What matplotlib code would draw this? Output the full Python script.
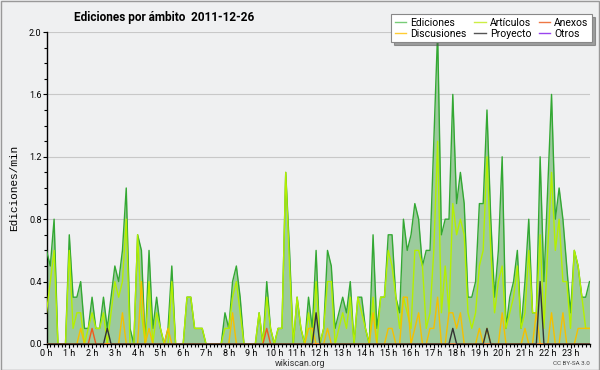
import numpy as np
import matplotlib
matplotlib.use("Agg")
import matplotlib.pyplot as plt
from matplotlib.lines import Line2D
from matplotlib.patches import Rectangle
from matplotlib.ticker import MultipleLocator

plt.rcParams['font.family'] = ['Roboto', 'DejaVu Sans']

title = "Ediciones por ámbito  2011-12-26"
hour_labels = [f"{h} h" for h in range(24)]

ediciones = [
    0.6, 0.5, 0.8, 0.0, 0.0, 0.0, 0.7, 0.3, 0.3, 0.4, 0.1, 0.1,
    0.3, 0.1, 0.1, 0.3, 0.1, 0.3, 0.5, 0.4, 0.6, 1.0, 0.1, 0.0,
    0.7, 0.6, 0.0, 0.6, 0.1, 0.3, 0.1, 0.0, 0.1, 0.5, 0.0, 0.0,
    0.0, 0.3, 0.3, 0.1, 0.1, 0.1, 0.0, 0.0, 0.0, 0.0, 0.0, 0.2,
    0.1, 0.4, 0.5, 0.3, 0.0, 0.0, 0.0, 0.0, 0.2, 0.0, 0.4, 0.1,
    0.0, 0.1, 0.1, 1.1, 0.6, 0.0, 0.3, 0.1, 0.0, 0.3, 0.1, 0.6,
    0.0, 0.1, 0.6, 0.5, 0.1, 0.2, 0.3, 0.2, 0.4, 0.0, 0.3, 0.3,
    0.1, 0.0, 0.7, 0.1, 0.3, 0.3, 0.7, 0.7, 0.3, 0.2, 0.8, 0.6,
    0.7, 0.9, 0.8, 0.5, 0.6, 0.6, 1.3, 2.0, 0.7, 0.8, 0.8, 1.6,
    0.9, 1.1, 0.9, 0.3, 0.3, 0.4, 0.9, 0.9, 1.5, 0.8, 0.3, 0.6,
    1.2, 0.1, 0.3, 0.4, 0.6, 0.1, 0.4, 0.8, 0.2, 0.2, 1.2, 0.4,
    1.0, 1.6, 0.8, 1.0, 0.8, 0.5, 0.2, 0.6, 0.5, 0.3, 0.3, 0.4,
]
articulos = [
    0.2, 0.4, 0.6, 0.0, 0.0, 0.0, 0.6, 0.1, 0.2, 0.2, 0.0, 0.1,
    0.2, 0.1, 0.1, 0.2, 0.0, 0.2, 0.4, 0.3, 0.4, 0.8, 0.0, 0.0,
    0.7, 0.2, 0.0, 0.4, 0.0, 0.2, 0.1, 0.0, 0.0, 0.4, 0.0, 0.0,
    0.0, 0.3, 0.3, 0.1, 0.1, 0.1, 0.0, 0.0, 0.0, 0.0, 0.0, 0.1,
    0.1, 0.3, 0.4, 0.2, 0.0, 0.0, 0.0, 0.0, 0.2, 0.0, 0.3, 0.1,
    0.0, 0.1, 0.1, 1.1, 0.5, 0.0, 0.3, 0.1, 0.0, 0.2, 0.0, 0.4,
    0.0, 0.1, 0.4, 0.4, 0.0, 0.1, 0.2, 0.1, 0.3, 0.0, 0.3, 0.2,
    0.1, 0.0, 0.3, 0.0, 0.3, 0.3, 0.6, 0.5, 0.3, 0.1, 0.3, 0.2,
    0.1, 0.6, 0.6, 0.5, 0.1, 0.2, 0.6, 1.3, 0.2, 0.5, 0.2, 0.9,
    0.7, 0.8, 0.7, 0.2, 0.1, 0.2, 0.5, 0.6, 1.2, 0.6, 0.2, 0.4,
    0.5, 0.1, 0.2, 0.3, 0.5, 0.1, 0.2, 0.6, 0.2, 0.2, 0.7, 0.1,
    0.6, 1.1, 0.6, 0.8, 0.4, 0.4, 0.1, 0.6, 0.5, 0.3, 0.1, 0.1,
]
discusiones = [0.0] * 144
for k, v in {9: 0.1, 20: 0.2, 25: 0.4, 27: 0.1, 32: 0.1, 49: 0.2, 69: 0.1,
             70: 0.1, 74: 0.1, 86: 0.2, 90: 0.1, 91: 0.1, 94: 0.3, 95: 0.3,
             97: 0.1, 98: 0.2, 101: 0.1, 102: 0.1, 103: 0.3, 106: 0.2,
             107: 0.2, 108: 0.1, 109: 0.2, 114: 0.1, 116: 0.1, 120: 0.2,
             126: 0.1, 129: 0.2, 133: 0.2, 136: 0.2, 140: 0.1, 141: 0.1,
             142: 0.1, 143: 0.1}.items():
    discusiones[k] = v
anexos = [0.0] * 144
for k, v in {12: 0.1, 58: 0.1}.items():
    anexos[k] = v
proyecto = [0.0] * 144
for k, v in {16: 0.1, 71: 0.2, 107: 0.1, 116: 0.1, 130: 0.4}.items():
    proyecto[k] = v
otros = [0.0] * 144

x = np.arange(len(ediciones))

bg = "#eff0f1"
fig = plt.figure(figsize=(6.0, 3.7), dpi=100, facecolor=bg)
ax = fig.add_axes([0.0775, 0.0703, 0.905, 0.8432], facecolor=bg)

ax.fill_between(x, ediciones, 0, color="#9ccb9c", linewidth=0, zorder=2)
ax.plot(x, ediciones, color="#33a833", lw=1.0, zorder=3)
ax.plot(x, articulos, color="#b4f000", lw=1.0, zorder=4)
ax.plot(x, discusiones, color="#f5c000", lw=1.0, zorder=5)
ax.plot(x, anexos, color="#f05a1e", lw=1.0, zorder=6)
ax.plot(x, proyecto, color="#333333", lw=1.0, zorder=7)
ax.plot(x, otros, color="#9040e0", lw=1.0, zorder=1)

ax.set_xlim(0, len(ediciones) - 1)
ax.set_ylim(0, 2.0)
ax.set_xticks(np.arange(0, 144, 6))
ax.set_xticklabels(hour_labels)
ax.xaxis.set_minor_locator(MultipleLocator(1))
ax.set_yticks(np.arange(0, 2.01, 0.4))
ax.set_yticklabels([f"{v:.1f}" for v in np.arange(0, 2.01, 0.4)])
ax.yaxis.set_minor_locator(MultipleLocator(0.1))
ax.grid(axis="y", which="major", color="#c8c8c8", lw=0.8, zorder=0)
ax.set_axisbelow(True)
for s in ("top", "right"):
    ax.spines[s].set_visible(False)
ax.spines["left"].set_linewidth(1.0)
ax.spines["bottom"].set_linewidth(1.0)
ax.tick_params(axis="both", which="major", length=3, width=0.8, labelsize=6.5, pad=0.5)
ax.tick_params(axis="both", which="minor", length=2.5, width=0.8)
ax.set_ylabel("Ediciones/min", family=["Liberation Mono", "DejaVu Sans Mono"],
              fontsize=8, labelpad=7)

fig.text(0.123, 0.953, title, fontsize=8.5, fontweight="bold", ha="left", va="center")
fig.text(0.5, 0.018, "wikiscan.org", fontsize=6.5, ha="center", va="center", color="#333333")
fig.text(0.983, 0.018, "CC BY-SA 3.0", fontsize=4.5, ha="right", va="center", color="#444444")

handles = [
    Line2D([], [], color="#77cc77", lw=1),
    Line2D([], [], color="#ffcc33", lw=1),
    Line2D([], [], color="#ccee44", lw=1),
    Line2D([], [], color="#555555", lw=1),
    Line2D([], [], color="#ee7744", lw=1),
    Line2D([], [], color="#9944ee", lw=1),
]
labels = ["Ediciones", "Discusiones", "Artículos", "Proyecto", "Anexos", "Otros"]
leg = fig.legend(handles, labels, loc="upper right", bbox_to_anchor=(0.987, 0.962),
                 ncol=3, fontsize=7.5, frameon=True, fancybox=False, shadow=True,
                 handlelength=1.1, handletextpad=0.4, columnspacing=0.7,
                 labelspacing=0.1, borderpad=0.35, borderaxespad=0)
leg.get_frame().set_edgecolor("#888888")
leg.get_frame().set_linewidth(0.8)
leg.get_frame().set_facecolor("white")

fig.patches.append(Rectangle((0.001, 0.001), 0.997, 0.997, transform=fig.transFigure,
                             fill=False, edgecolor="#999999", lw=1))

fig.savefig("out.png", dpi=100, facecolor=bg)
